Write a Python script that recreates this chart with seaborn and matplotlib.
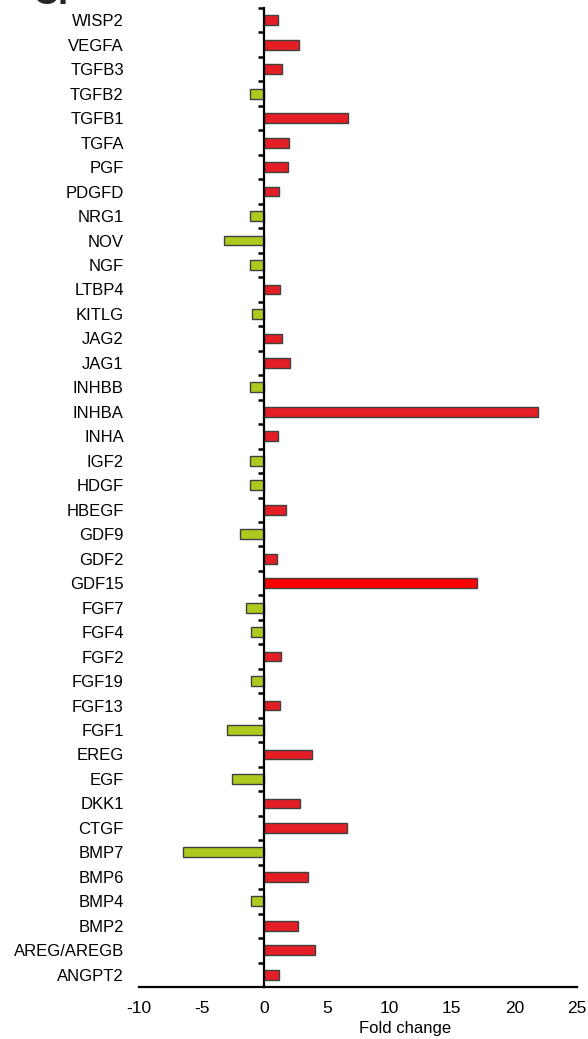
import matplotlib
matplotlib.use("Agg")
import matplotlib.pyplot as plt
import seaborn as sns
import pandas as pd
import numpy as np
from matplotlib.ticker import FixedLocator

genes = ["WISP2", "VEGFA", "TGFB3", "TGFB2", "TGFB1", "TGFA", "PGF", "PDGFD",
         "NRG1", "NOV", "NGF", "LTBP4", "KITLG", "JAG2", "JAG1", "INHBB",
         "INHBA", "INHA", "IGF2", "HDGF", "HBEGF", "GDF9", "GDF2", "GDF15",
         "FGF7", "FGF4", "FGF2", "FGF19", "FGF13", "FGF1", "EREG", "EGF",
         "DKK1", "CTGF", "BMP7", "BMP6", "BMP4", "BMP2", "AREG/AREGB", "ANGPT2"]
fold = [1.1, 2.8, 1.4, -1.1, 6.7, 2.0, 1.9, 1.2,
        -1.15, -3.2, -1.1, 1.3, -1.0, 1.4, 2.1, -1.1,
        21.9, 1.1, -1.1, -1.1, 1.75, -1.9, 1.0, 17.0,
        -1.45, -1.05, 1.35, -1.05, 1.3, -2.95, 3.85, -2.6,
        2.85, 6.6, -6.45, 3.5, -1.05, 2.7, 4.05, 1.15]

df = pd.DataFrame({"gene": genes, "fold": fold})
df["kind"] = np.where(df["fold"] > 0, "up", "down")
df.loc[df["gene"] == "GDF15", "kind"] = "peak"
palette = {"up": "#e31e24", "down": "#afca1e", "peak": "#ff0000"}

sns.set_style("white")
plt.rcParams["font.family"] = ["Liberation Sans", "DejaVu Sans"]
plt.rcParams["axes.unicode_minus"] = False

fig = plt.figure(figsize=(5.88, 10.39), dpi=100)
ax = fig.add_axes([139 / 588, 52 / 1039, 438 / 588, 979 / 1039])

sns.barplot(data=df, x="fold", y="gene", hue="kind", palette=palette,
            dodge=False, width=0.4, saturation=1, edgecolor="#404040",
            linewidth=1.0, legend=False, ax=ax, orient="h")

ax.set_xlim(-10, 25)
ax.set_ylim(len(genes) - 0.5, -0.5)
ax.set_xticks(range(-10, 26, 5))
ax.tick_params(axis="x", labelsize=12.5, length=6, width=1.6, direction="out",
               color="black", labelcolor="black", pad=4)

for s in ["top", "right"]:
    ax.spines[s].set_visible(False)
ax.spines["left"].set_position(("data", 0))
for s in ["left", "bottom"]:
    ax.spines[s].set_linewidth(1.6)
    ax.spines[s].set_color("black")

# gene names sit left of the plot, the zero line carries the small ticks
ax.yaxis.set_minor_locator(FixedLocator(np.arange(-0.5, len(genes) - 1, 1.0)))
ax.tick_params(axis="y", which="major", length=0, labelsize=12,
               labelcolor="black", pad=101)
ax.tick_params(axis="y", which="minor", left=True, length=4, width=1.8,
               color="black")
ax.set_ylabel("")
ax.set_xlabel("Fold change", fontsize=12, color="black")
ax.xaxis.set_label_coords(0.607, -0.042)
ax.xaxis.label.set_va("center")

# panel letter, mostly cropped off at the top edge as in the source figure
fig.text(33 / 588, 1 - 4 / 1039, "C.", fontsize=26, fontweight="bold",
         va="baseline")

fig.savefig("out.png", dpi=100)
